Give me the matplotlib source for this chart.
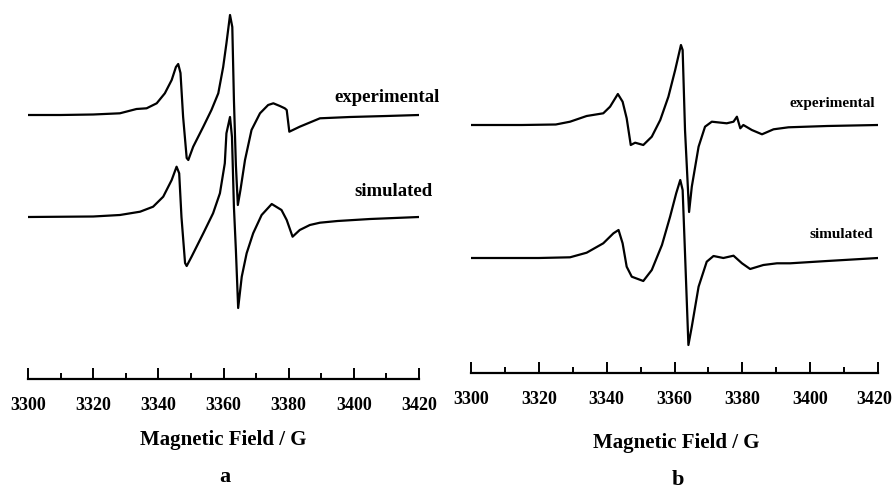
import numpy as np
import matplotlib
matplotlib.use("Agg")
import matplotlib.pyplot as plt
from matplotlib.ticker import MultipleLocator, FuncFormatter

plt.rcParams['font.family'] = ['Liberation Serif', 'DejaVu Serif']
plt.rcParams['font.weight'] = 'bold'

# panel a: experimental spectrum (field in G, signal in arbitrary units)
a_exp_field = [3300, 3310, 3320, 3328.2, 3333.3, 3336.4, 3339.5, 3342.0, 3344.1, 3345.4,
               3346.1, 3346.8, 3347.6, 3348.7, 3349.2, 3350.7, 3353.8, 3356.3, 3358.4,
               3359.9, 3360.9, 3362.0, 3362.7, 3363.2, 3363.8, 3364.4, 3365.2, 3366.6,
               3368.6, 3371.2, 3373.7, 3375.3, 3377.3, 3378.8, 3379.4, 3380.2, 3383.4,
               3389.6, 3398.8, 3410, 3420]
a_exp_sig = [0, 0, 0.5, 1.7, 6, 6.7, 11.7, 21.7, 35, 48,
             51, 42, -1.7, -43, -45, -31.7, -11.7, 5, 21.7,
             48, 71.7, 100, 88, 15, -50, -90, -75, -45,
             -15, 1.7, 10, 11.7, 9, 6.7, 5, -16.7, -11.7,
             -3.3, -2, -1, 0]

# panel a: simulated spectrum
a_sim_field = [3300, 3320, 3328.2, 3334.4, 3338.4, 3341.5, 3344.1, 3345.6, 3346.4, 3347.1,
               3348.2, 3348.7, 3350.2, 3353.8, 3356.8, 3358.9, 3360.4, 3360.9, 3362.0,
               3362.6, 3363.2, 3363.8, 3364.5, 3365.6, 3367.1, 3369.1, 3371.7, 3374.8,
               3377.8, 3379.4, 3381.2, 3383.4, 3386.5, 3389.6, 3395, 3405, 3420]
a_sim_sig = [0, 0.5, 2, 5.3, 10.3, 20.3, 37, 50.3, 43.7, 0,
             -46, -49, -39.7, -16.3, 3.7, 23.7, 53.7, 83.7, 100,
             80, 10, -33, -91, -59.7, -36.3, -16.3, 2, 13,
             7, -3, -19.7, -13, -8, -5.7, -4, -2, 0]

# panel b: experimental spectrum
b_exp_field = [3300, 3315, 3325, 3329.2, 3334.1, 3339.0, 3341.0, 3343.3, 3344.7, 3345.9,
               3347.1, 3348.4, 3350.8, 3353.3, 3355.8, 3358.2, 3360.2, 3361.9, 3362.4,
               3363.1, 3364.3, 3365.1, 3367.1, 3369.0, 3371.0, 3375.4, 3377.4, 3378.4,
               3379.4, 3380.3, 3382.8, 3385.8, 3389.2, 3393.6, 3405, 3420]
b_exp_sig = [0, 0, 0.5, 3.3, 9, 11.7, 18.3, 31, 23.3, 6.7,
             -20, -17.7, -20, -11.7, 5, 28.3, 55, 80, 75,
             -5, -87, -61.7, -21.7, -1.7, 3.3, 1.7, 3.3, 8.3,
             -3.3, 0, -5, -9.3, -4.3, -2.3, -1, 0]

# panel b: simulated spectrum
b_sim_field = [3300, 3320, 3329.2, 3334.1, 3339.0, 3342.0, 3343.5, 3344.7, 3345.9, 3347.4,
               3350.8, 3353.3, 3356.3, 3358.7, 3360.5, 3361.7, 3362.4, 3363.1, 3364.1,
               3365.1, 3367.1, 3369.5, 3371.5, 3374.4, 3377.4, 3379.9, 3382.3, 3386.2,
               3390.2, 3394.1, 3405, 3420]
b_sim_sig = [0, 0, 0.7, 5.3, 14.7, 24.7, 28, 14.7, -8.7, -18.7,
             -23, -12, 13, 41.3, 64.7, 78, 68, 4.7, -87,
             -68.7, -28.7, -3.7, 2, 0, 2.3, -5.3, -11, -7,
             -5.3, -5.3, -3, 0]

W, H = 895, 497
fig = plt.figure(figsize=(W / 100, H / 100), dpi=100)


def make_axes(left_px, right_px, axis_px, base_px):
    ax = fig.add_axes([left_px / W, 1 - axis_px / H, (right_px - left_px) / W, axis_px / H])
    ax.set_xlim(3300, 3420)
    ax.set_ylim(-(axis_px - base_px), base_px)
    for s in ['top', 'left', 'right']:
        ax.spines[s].set_visible(False)
    ax.spines['bottom'].set_linewidth(1.6)
    ax.yaxis.set_visible(False)
    ax.xaxis.set_major_locator(MultipleLocator(20))
    ax.xaxis.set_minor_locator(MultipleLocator(10))
    ax.tick_params(axis='x', which='major', direction='in', length=8, width=1.4,
                   pad=13, labelsize=13)
    ax.tick_params(axis='x', which='minor', direction='in', length=4, width=1.4)
    ax.patch.set_alpha(0)
    return ax


line_kw = dict(color='black', lw=1.6, solid_joinstyle='round', solid_capstyle='round')

# panel a
ax1 = make_axes(28, 419, 379, 115)
ax1.plot(a_exp_field, a_exp_sig, **line_kw)
ax1.plot(a_sim_field, np.array(a_sim_sig) - 102, **line_kw)
ax1.text(3426.4, 18, 'experimental', ha='right', va='center', fontsize=13.5, fontweight='bold', clip_on=False)
ax1.text(3424.2, -77, 'simulated', ha='right', va='center', fontsize=13.5, fontweight='bold', clip_on=False)

# panel b
ax2 = make_axes(471, 878, 373, 125)
ax2.plot(b_exp_field, b_exp_sig, **line_kw)
ax2.plot(b_sim_field, np.array(b_sim_sig) - 133, **line_kw)
ax2.text(3419.2, 22, 'experimental', ha='right', va='center', fontsize=11, fontweight='bold', clip_on=False)
ax2.text(3418.6, -110, 'simulated', ha='right', va='center', fontsize=11, fontweight='bold', clip_on=False)

# the 3420 label of panel b sits against the figure edge: draw it nudged left
ax2.xaxis.set_major_formatter(FuncFormatter(lambda v, p: '' if v >= 3420 else '%d' % v))
ax2.annotate('3420', xy=(3420, 0), xycoords=('data', 'axes fraction'),
             xytext=(-3, -13), textcoords='offset points', ha='center', va='top',
             fontsize=13, fontweight='bold', annotation_clip=False)

fig.text(223 / W, 1 - 440 / H, 'Magnetic Field / G', ha='center', va='center', fontsize=15, fontweight='bold')
fig.text(676 / W, 1 - 443 / H, 'Magnetic Field / G', ha='center', va='center', fontsize=15, fontweight='bold')
fig.text(225 / W, 1 - 477 / H, 'a', ha='center', va='center', fontsize=16, fontweight='bold')
fig.text(678 / W, 1 - 480 / H, 'b', ha='center', va='center', fontsize=16, fontweight='bold')

fig.savefig('out.png', dpi=100)
